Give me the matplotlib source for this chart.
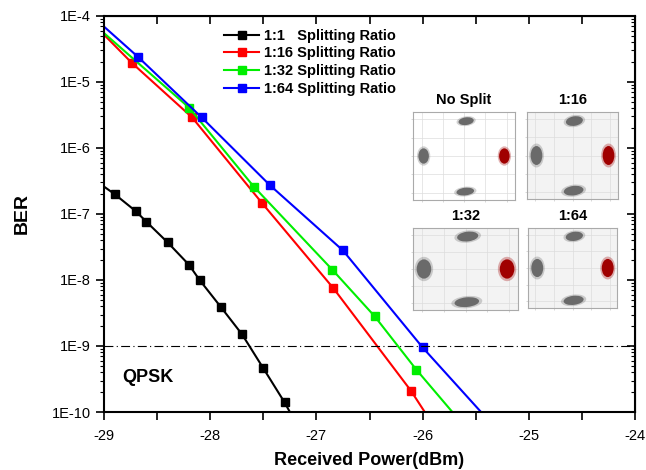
import numpy as np
import matplotlib.pyplot as plt
from matplotlib.patches import Ellipse
from matplotlib.ticker import FixedLocator, LogLocator, NullFormatter, MultipleLocator

plt.rcParams['font.family'] = ['Liberation Sans', 'DejaVu Sans']

# BER curves (markers), plus where each fitted line enters/leaves the frame
power_1_1 = [-28.9, -28.7, -28.6, -28.4, -28.2, -28.1, -27.9, -27.7, -27.5, -27.3]
ber_1_1 = [2.0e-7, 1.1e-7, 7.6e-8, 3.7e-8, 1.7e-8, 1.0e-8, 3.9e-9, 1.5e-9, 4.6e-10, 1.4e-10]
ends_1_1 = [(-29.0, 2.6e-7), (-27.25, 1e-10)]

power_1_16 = [-28.74, -28.17, -27.51, -26.84, -26.11]
ber_1_16 = [1.96e-5, 2.9e-6, 1.45e-7, 7.5e-9, 2.1e-10]
ends_1_16 = [(-29.0, 5.2e-5), (-25.98, 1e-10)]

power_1_32 = [-28.2, -27.59, -26.85, -26.45, -26.06]
ber_1_32 = [4.1e-6, 2.6e-7, 1.43e-8, 2.8e-9, 4.4e-10]
ends_1_32 = [(-29.0, 5.5e-5), (-25.72, 1e-10)]

power_1_64 = [-28.68, -28.08, -27.44, -26.75, -26.0]
ber_1_64 = [2.4e-5, 2.9e-6, 2.75e-7, 2.8e-8, 9.5e-10]
ends_1_64 = [(-29.0, 6.9e-5), (-25.45, 1e-10)]

labels = ['1:1   Splitting Ratio', '1:16 Splitting Ratio',
          '1:32 Splitting Ratio', '1:64 Splitting Ratio']
colors = ['black', '#ff0000', '#00ee00', '#0000ff']
fec_limit = 1e-9

y_ticks = [1e-4, 1e-5, 1e-6, 1e-7, 1e-8, 1e-9, 1e-10]
y_ticklabels = ['1E-4', '1E-5', '1E-6', '1E-7', '1E-8', '1E-9', '1E-10']
x_ticks = [-29, -28, -27, -26, -25, -24]

fig = plt.figure(figsize=(6.46, 4.70), dpi=100)
ax = fig.add_axes([0.161, 0.1234, 0.822, 0.8426])

series = [(power_1_1, ber_1_1, ends_1_1), (power_1_16, ber_1_16, ends_1_16),
          (power_1_32, ber_1_32, ends_1_32), (power_1_64, ber_1_64, ends_1_64)]
for (px, by, ends), c, lab in zip(series, colors, labels):
    xs = [ends[0][0]] + px + [ends[1][0]]
    ys = [ends[0][1]] + by + [ends[1][1]]
    ax.plot(xs, ys, color=c, lw=1.5, marker='s', ms=5.5, mec=c, mfc=c,
            markevery=list(range(1, len(px) + 1)), label=lab, clip_on=True)

ax.axhline(fec_limit, color='black', lw=0.8, ls=(0, (8, 3, 1, 3)))

ax.set_yscale('log')
ax.set_xlim(-29, -24)
ax.set_ylim(1e-10, 1e-4)
ax.yaxis.set_major_locator(FixedLocator(y_ticks))
ax.set_yticklabels(y_ticklabels)
ax.yaxis.set_minor_locator(LogLocator(base=10, subs=np.arange(2, 10), numticks=20))
ax.yaxis.set_minor_formatter(NullFormatter())
ax.set_xticks(x_ticks)
ax.set_xticklabels([str(v) for v in x_ticks])
ax.xaxis.set_minor_locator(MultipleLocator(0.5))

ax.tick_params(axis='both', which='major', labelsize=10.5, length=6, width=1.2,
               direction='out', top=False, right=False)
ax.tick_params(axis='x', which='major', pad=6)
ax.tick_params(axis='x', which='minor', length=6, width=1.2, direction='out')
ax.tick_params(axis='y', which='minor', length=3, width=0.8, direction='out')
for s in ax.spines.values():
    s.set_linewidth(1.5)

# mirrored inward ticks on top and right, Origin style
axt = ax.secondary_xaxis('top')
axt.set_xticks(x_ticks)
axt.xaxis.set_minor_locator(MultipleLocator(0.5))
axt.tick_params(which='both', direction='in', length=6, width=1.2, labeltop=False)
axr = ax.secondary_yaxis('right')
axr.yaxis.set_major_locator(FixedLocator(y_ticks))
axr.yaxis.set_minor_locator(LogLocator(base=10, subs=np.arange(2, 10), numticks=20))
axr.yaxis.set_minor_formatter(NullFormatter())
axr.tick_params(which='major', direction='in', length=6, width=1.2, labelright=False)
axr.tick_params(which='minor', direction='in', length=3, width=0.8)

ax.set_xlabel('Received Power(dBm)', fontsize=13, fontweight='bold', labelpad=7)
ax.set_ylabel('BER', fontsize=14, fontweight='bold', labelpad=15)

ax.text(-28.83, 3.3e-10, 'QPSK', fontsize=13, fontweight='bold', va='center')

leg = ax.legend(loc='upper left', bbox_to_anchor=(0.21, 0.99), frameon=False,
                prop={'weight': 'bold', 'size': 10.5}, handlelength=2.4,
                handletextpad=0.3, labelspacing=0.25, borderaxespad=0.2)

# constellation insets: (title, axes rect in figure px, background, cluster size scale)
inset_titles = ['No Split', '1:16', '1:32', '1:64']
inset_boxes = [(413, 112, 515, 200), (527, 112, 618, 199),
               (413, 228, 518, 310), (528, 228, 617, 308)]
inset_bg = ['white', '#f3f3f3', '#f3f3f3', '#f3f3f3']
inset_spread = [1.0, 1.25, 1.35, 1.3]

W, H = 646, 470
for title, (x0, y0, x1, y1), bg, k in zip(inset_titles, inset_boxes, inset_bg, inset_spread):
    ia = fig.add_axes([x0 / W, 1 - y1 / H, (x1 - x0) / W, (y1 - y0) / H])
    ia.set_xlim(-1.2, 1.2)
    ia.set_ylim(-1.2, 1.2)
    ia.set_facecolor(bg)
    ia.set_axisbelow(True)
    ia.set_xticks([-1, -0.5, 0, 0.5, 1])
    ia.set_yticks([-1, -0.5, 0, 0.5, 1])
    ia.grid(color='#dddddd', lw=0.5)
    ia.tick_params(length=1.5, width=0.4, color='#bbbbbb', labelbottom=False, labelleft=False)
    for s in ia.spines.values():
        s.set_color('#aaaaaa')
        s.set_linewidth(0.8)
    clusters = [(0.05, 0.95, 0.38, 0.22, 10, '#6a6a6a'),
                (-0.95, 0.0, 0.26, 0.44, 0, '#6a6a6a'),
                (0.95, 0.0, 0.26, 0.44, 0, '#a00000'),
                (0.03, -0.97, 0.44, 0.22, 8, '#6a6a6a')]
    for cx, cy, w, h, ang, col in clusters:
        ia.add_patch(Ellipse((cx, cy), w * k * 1.2, h * k * 1.2, angle=ang,
                             fc=col, ec='none', alpha=0.3, zorder=3))
        ia.add_patch(Ellipse((cx, cy), w * k * 0.95, h * k * 0.95, angle=ang,
                             fc=col, ec='none', alpha=1.0, zorder=3))
    ia.set_title(title, fontsize=10.5, fontweight='bold', pad=6)

fig.savefig('out.png', dpi=100)
